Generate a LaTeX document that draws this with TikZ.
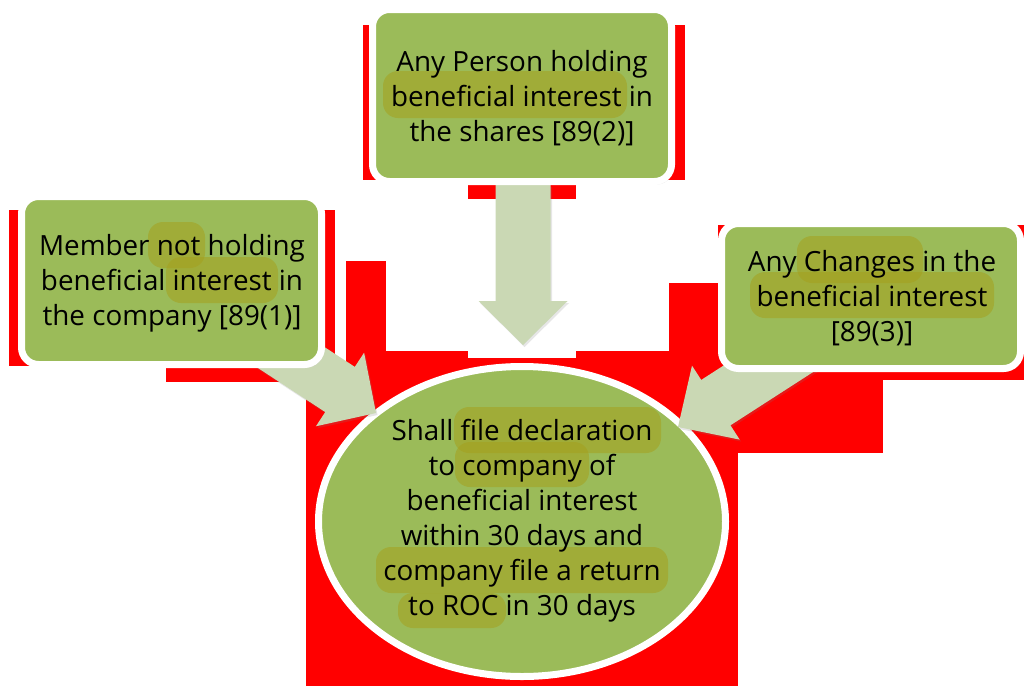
\documentclass[tikz,border=0pt]{standalone}
\usepackage{fontspec}
\setmainfont{Open Sans}
\usetikzlibrary{shapes.geometric,shadows}
\definecolor{boxgreen}{RGB}{155,187,89}
\definecolor{arrowgreen}{RGB}{202,216,180}
\definecolor{hilite}{RGB}{165,160,30}
\definecolor{redbg}{RGB}{255,0,0}
\tikzset{
  redpatch/.style={fill=redbg, draw=none},
  greenbox/.style={rectangle, rounded corners=17pt, draw=white, line width=7pt, fill=boxgreen, inner sep=0pt,
    drop shadow={opacity=0.25, shadow xshift=2pt, shadow yshift=-3pt}},
  greenoval/.style={ellipse, draw=white, line width=7pt, fill=boxgreen, inner sep=0pt},
  blockarrow/.style={fill=arrowgreen, draw=none,
    drop shadow={opacity=0.2, shadow xshift=1.5pt, shadow yshift=-2pt}},
  hl/.style={fill=hilite, fill opacity=0.55, draw=none, rounded corners=15pt},
  label/.style={align=center, inner sep=0pt, text=black, font=\fontsize{27.8}{35}\selectfont}
}
\begin{document}
\begin{tikzpicture}[x=1pt,y=1pt]
\useasboundingbox (0,0) rectangle (1024,-686);
% red background patches
\fill[redpatch] (363,-25) rectangle (685,-180);
\fill[redpatch] (468,-180) rectangle (576,-199);
\fill[redpatch] (9,-210) rectangle (335,-366);
\fill[redpatch] (166,-366) rectangle (335,-382);
\fill[redpatch] (346,-261) rectangle (386,-352);
\fill[redpatch] (669,-283) rectangle (718,-352);
\fill[redpatch] (718,-225) rectangle (1024,-380);
\fill[redpatch] (576,-351) rectangle (883,-453);
\fill[redpatch] (346,-351) rectangle (468,-686);
\fill[redpatch] (468,-358) rectangle (576,-686);
\fill[redpatch] (576,-351) rectangle (738,-686);
\fill[redpatch] (306,-398) rectangle (346,-686);
% central ellipse
\node[greenoval, minimum width=407pt, minimum height=310pt] (result) at (522,-521.5) {};
% block arrows
\coordinate (tipL) at (376,-413);
\coordinate (tipT) at (523,-345);
\coordinate (tipR) at (678,-427);
\begin{scope}[shift={(tipT)}, rotate=-90]
  \path[blockarrow] (0,0) -- (-44,44.5) -- (-44,27.5) -- (-160,27.5) -- (-160,-27.5) -- (-44,-27.5) -- (-44,-44.5) -- cycle;
\end{scope}
\begin{scope}[shift={(tipL)}, rotate=-33.2]
  \path[blockarrow] (0,0) -- (-43,44) -- (-43,27) -- (-160,27) -- (-160,-27) -- (-43,-27) -- (-43,-44) -- cycle;
\end{scope}
\begin{scope}[shift={(tipR)}, rotate=212.8]
  \path[blockarrow] (0,0) -- (-45,44) -- (-45,27) -- (-160,27) -- (-160,-27) -- (-45,-27) -- (-45,-44) -- cycle;
\end{scope}
% boxes
\node[greenbox, minimum width=299pt, minimum height=172pt] (top) at (522,-95.5) {};
\node[greenbox, minimum width=300pt, minimum height=168pt] (left) at (171.5,-280.5) {};
\node[greenbox, minimum width=299pt, minimum height=145pt] (right) at (871,-296) {};
% highlights
\fill[hl] (383,-71) rectangle (627,-118);
\fill[hl] (148,-222) rectangle (205,-268);
\fill[hl] (166,-257) rectangle (278,-303);
\fill[hl] (797,-236) rectangle (923,-283);
\fill[hl] (750,-272) rectangle (994,-318);
\fill[hl] (454,-407) rectangle (661,-453);
\fill[hl] (455,-442) rectangle (589,-487);
\fill[hl] (376,-547) rectangle (668,-593);
\fill[hl] (398,-593) rectangle (506,-628);
% texts
\node[label] (toptext) at (522,-98) {Any Person holding\\beneficial interest in\\the shares [89(2)]};
\node[label] (lefttext) at (172,-283) {Member not holding\\beneficial interest in\\the company [89(1)]};
\node[label] (righttext) at (872,-298) {Any Changes in the\\beneficial interest\\{[89(3)]}};
\node[label] (resulttext) at (522,-520.5) {Shall file declaration\\to company of\\beneficial interest\\within 30 days and\\company file a return\\to ROC in 30 days};
\end{tikzpicture}
\end{document}
